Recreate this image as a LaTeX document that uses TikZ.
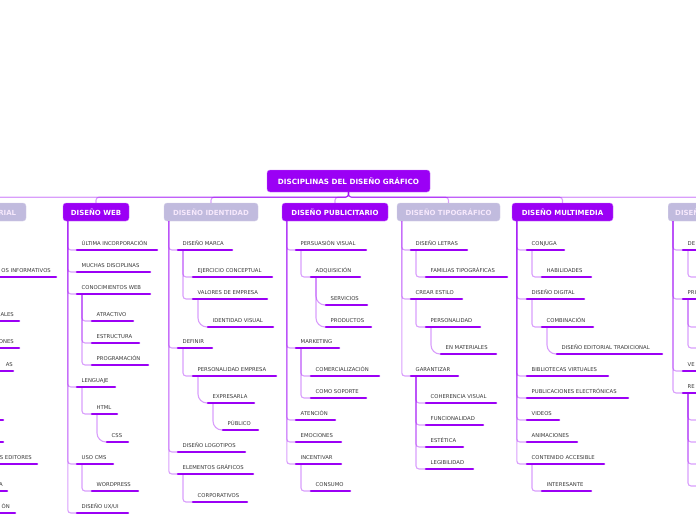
\documentclass[tikz,border=0pt]{standalone}
\usepackage{fontspec}
\setmainfont{DejaVu Sans}
\definecolor{violet}{RGB}{155,0,245}
\definecolor{lavender}{RGB}{193,187,222}
\definecolor{pale}{RGB}{246,232,252}
\definecolor{ink}{RGB}{55,55,55}
\newcommand{\idea}[5]{\coordinate (#1) at (#2,#3);
\draw[bar] (#1) -- (#4,#3);
\node[lbl] (#1t) at (#2+4.5,#3-5) {#5};}
\newcommand{\tail}[5]{\coordinate (#1) at (-60,#2);
\draw[bar] (#1) -- (#3,#2);
\node[lbl,anchor=base east] (#1t) at (#4,#2-5) {#5};}
\newcommand{\joint}[2]{\draw[link] ([xshift=5pt]#1) |- (#2);}
\newcommand{\swoop}[2]{\draw[link,rounded corners=9pt] ([xshift=5pt]#1) |- (#2);}
\begin{document}
\begin{tikzpicture}[x=1pt,y=-1pt,
  branch/.style={rounded corners=3pt,fill=violet,draw=violet!55,line width=.4pt,text=white,
    font=\bfseries\fontsize{7}{8}\selectfont,minimum height=18pt,inner sep=0pt},
  faded/.style={branch,fill=lavender,draw=lavender!70,text=pale},
  lbl/.style={anchor=base west,inner sep=0pt,text=ink,font=\fontsize{5.3}{6}\selectfont},
  bar/.style={draw=violet,line width=2.6pt,line cap=round},
  link/.style={draw=violet,draw opacity=.38,line width=1.1pt,rounded corners=3pt}]
\path[use as bounding box] (0,0) rectangle (696,520);
\begin{scope}
\clip (0,0) rectangle (696,520);
\node[branch,minimum width=163pt,minimum height=22pt,font=\bfseries\fontsize{7.2}{8}\selectfont] (root) at (348.5,181) {DISCIPLINAS DEL DISEÑO GRÁFICO};
\node[faded,minimum width=94pt] (edit) at (-21,212) {DISEÑO EDITORIAL};
\node[branch,minimum width=66pt] (web) at (96,212) {DISEÑO WEB};
\node[faded,minimum width=94pt] (ident) at (211,212) {DISEÑO IDENTIDAD};
\node[branch,minimum width=106pt] (publi) at (335,212) {DISEÑO PUBLICITARIO};
\node[faded,minimum width=103pt] (tipo) at (448.5,212) {DISEÑO TIPOGRÁFICO};
\node[branch,minimum width=101pt] (multi) at (562.5,212) {DISEÑO MULTIMEDIA};
\node[faded,minimum width=100pt,anchor=west,text width=86pt] (last) at (668,212) {DISEÑO};
\draw[link] (root.south) -- ++(0,5) -| (edit.north);
\draw[link] (root.south) -- ++(0,5) -| (web.north);
\draw[link] (root.south) -- ++(0,5) -| (ident.north);
\draw[link] (root.south) -- ++(0,5) -| (publi.north);
\draw[link] (root.south) -- ++(0,5) -| (tipo.north);
\draw[link] (root.south) -- ++(0,5) -| (multi.north);
\draw[link] (root.south) -- ++(0,5) -| (last.north);

\tail{e1}{277}{56}{51}{OS INFORMATIVOS}
\tail{e2}{321}{19}{14}{ALES}
\tail{e3}{348}{19}{14}{ONES}
\tail{e4}{371}{13}{13}{AS}
\tail{e5}{420}{3}{-2}{}
\tail{e6}{442}{3}{-2}{}
\tail{e7}{464}{37}{32}{S EDITORES}
\tail{e8}{491}{7}{3}{A}
\tail{e9}{513}{15}{10}{ÓN}

\idea{w1}{77}{250}{157}{ÚLTIMA INCORPORACIÓN}
\idea{w2}{77}{272}{150}{MUCHAS DISCIPLINAS}
\idea{w3}{77}{294}{150}{CONOCIMIENTOS WEB}
\idea{w31}{92}{321}{133}{ATRACTIVO}
\idea{w32}{92}{343}{139}{ESTRUCTURA}
\idea{w33}{92}{365}{148}{PROGRAMACIÓN}
\idea{w4}{77}{387}{115}{LENGUAJE}
\idea{w41}{92}{414}{117}{HTML}
\idea{w411}{107}{442}{128}{CSS}
\idea{w5}{77}{464}{113}{USO CMS}
\idea{w51}{92}{491}{138}{WORDPRESS}
\idea{w6}{77}{513}{128}{DISEÑO UX/UI}
\joint{web.south west}{w1}
\joint{web.south west}{w2}
\joint{web.south west}{w3}
\joint{web.south west}{w4}
\joint{web.south west}{w5}
\joint{web.south west}{w6}
\joint{w3}{w31}
\joint{w3}{w32}
\joint{w3}{w33}
\joint{w4}{w41}
\swoop{w41}{w411}
\joint{w5}{w51}

\idea{i1}{178}{250}{232}{DISEÑO MARCA}
\idea{i11}{193}{277}{272}{EJERCICIO CONCEPTUAL}
\idea{i12}{193}{299}{267}{VALORES DE EMPRESA}
\idea{i121}{208}{327}{273}{IDENTIDAD VISUAL}
\idea{i2}{178}{348}{212}{DEFINIR}
\idea{i21}{193}{376}{276}{PERSONALIDAD EMPRESA}
\idea{i211}{208}{403}{254}{EXPRESARLA}
\idea{i2111}{223}{430}{258}{PÚBLICO}
\idea{i3}{178}{452}{245}{DISEÑO LOGOTIPOS}
\idea{i4}{178}{474}{253}{ELEMENTOS GRÁFICOS}
\idea{i41}{193}{502}{247}{CORPORATIVOS}
\joint{ident.south west}{i1}
\joint{ident.south west}{i2}
\joint{ident.south west}{i3}
\joint{ident.south west}{i4}
\joint{i1}{i11}
\joint{i1}{i12}
\swoop{i12}{i121}
\joint{i2}{i21}
\swoop{i21}{i211}
\swoop{i211}{i2111}
\joint{i4}{i41}

\idea{p1}{296}{250}{366}{PERSUASIÓN VISUAL}
\idea{p11}{311}{277}{360}{ADQUISICIÓN}
\idea{p111}{326}{305}{367}{SERVICIOS}
\idea{p112}{326}{327}{371}{PRODUCTOS}
\idea{p2}{296}{348}{339}{MARKETING}
\idea{p21}{311}{376}{379}{COMERCIALIZACIÓN}
\idea{p22}{311}{398}{366}{COMO SOPORTE}
\idea{p3}{296}{420}{335}{ATENCIÓN}
\idea{p4}{296}{442}{341}{EMOCIONES}
\idea{p5}{296}{464}{341}{INCENTIVAR}
\idea{p51}{311}{491}{350}{CONSUMO}
\joint{publi.south west}{p1}
\joint{publi.south west}{p2}
\joint{publi.south west}{p3}
\joint{publi.south west}{p4}
\joint{publi.south west}{p5}
\joint{p1}{p11}
\swoop{p11}{p111}
\swoop{p11}{p112}
\joint{p2}{p21}
\joint{p2}{p22}
\joint{p5}{p51}

\idea{t1}{411}{250}{467}{DISEÑO LETRAS}
\idea{t11}{426}{277}{507}{FAMILIAS TIPOGRÁFICAS}
\idea{t2}{411}{299}{462}{CREAR ESTILO}
\idea{t21}{426}{327}{480}{PERSONALIDAD}
\idea{t211}{441}{354}{496}{EN MATERIALES}
\idea{t3}{411}{376}{458}{GARANTIZAR}
\idea{t31}{426}{403}{496}{COHERENCIA VISUAL}
\idea{t32}{426}{425}{483}{FUNCIONALIDAD}
\idea{t33}{426}{447}{463}{ESTÉTICA}
\idea{t34}{426}{469}{473}{LEGIBILIDAD}
\joint{tipo.south west}{t1}
\joint{tipo.south west}{t2}
\joint{tipo.south west}{t3}
\joint{t1}{t11}
\joint{t2}{t21}
\swoop{t21}{t211}
\joint{t3}{t31}
\joint{t3}{t32}
\joint{t3}{t33}
\joint{t3}{t34}

\idea{m1}{527}{250}{564}{CONJUGA}
\idea{m11}{542}{277}{591}{HABILIDADES}
\idea{m2}{527}{299}{584}{DISEÑO DIGITAL}
\idea{m21}{542}{327}{593}{COMBINACIÓN}
\idea{m211}{557}{354}{662}{DISEÑO EDITORIAL TRADICIONAL}
\idea{m3}{527}{376}{608}{BIBLIOTECAS VIRTUALES}
\idea{m4}{527}{398}{628}{PUBLICACIONES ELECTRÓNICAS}
\idea{m5}{527}{420}{559}{VIDEOS}
\idea{m6}{527}{442}{577}{ANIMACIONES}
\idea{m7}{527}{464}{604}{CONTENIDO ACCESIBLE}
\idea{m71}{542}{491}{591}{INTERESANTE}
\joint{multi.south west}{m1}
\joint{multi.south west}{m2}
\joint{multi.south west}{m3}
\joint{multi.south west}{m4}
\joint{multi.south west}{m5}
\joint{multi.south west}{m6}
\joint{multi.south west}{m7}
\joint{m1}{m11}
\joint{m2}{m21}
\swoop{m21}{m211}
\joint{m7}{m71}

\idea{r1}{683}{250}{730}{DE}
\idea{r2}{683}{299}{730}{PRI}
\idea{r3}{683}{371}{730}{VE}
\idea{r4}{683}{393}{730}{RE}
\coordinate (r11) at (699,277);
\coordinate (r21) at (699,327);
\coordinate (r22) at (699,348);
\coordinate (r41) at (699,420);
\coordinate (r42) at (699,442);
\coordinate (r43) at (699,464);
\coordinate (r44) at (699,486);
\joint{last.south west}{r1}
\joint{last.south west}{r2}
\joint{last.south west}{r3}
\joint{last.south west}{r4}
\joint{r1}{r11}
\joint{r2}{r21}
\joint{r2}{r22}
\joint{r4}{r41}
\joint{r4}{r42}
\joint{r4}{r43}
\joint{r4}{r44}
\end{scope}
\end{tikzpicture}
\end{document}
